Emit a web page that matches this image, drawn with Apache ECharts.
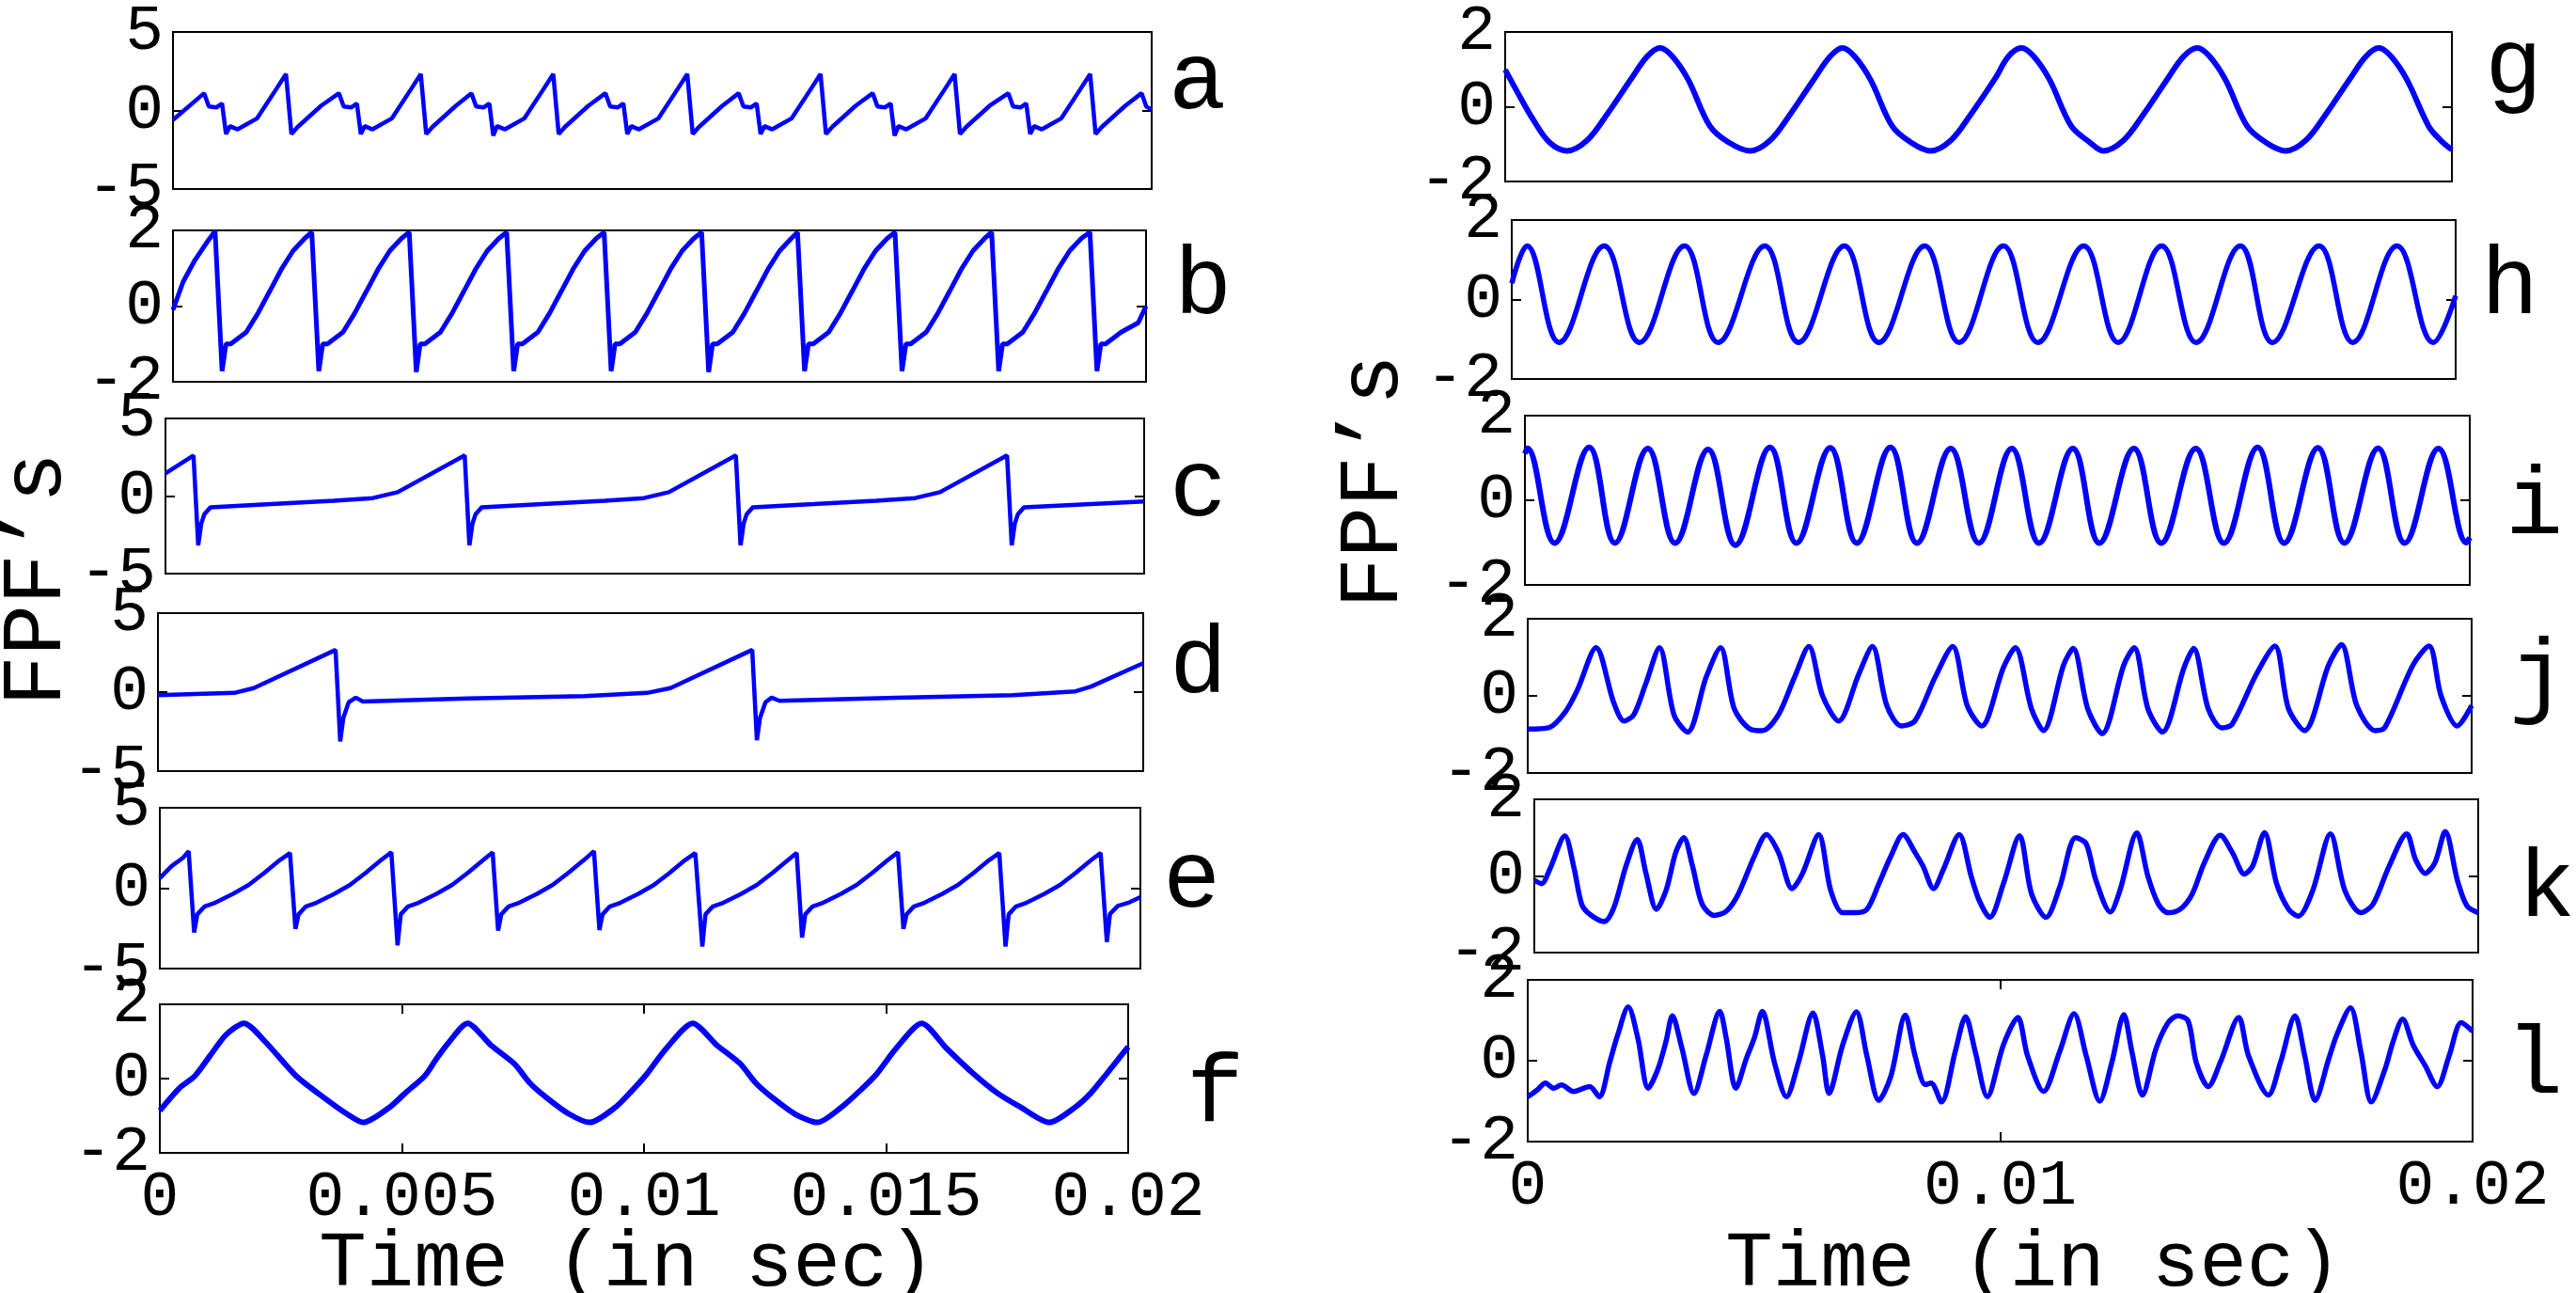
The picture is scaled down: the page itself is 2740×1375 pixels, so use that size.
<!DOCTYPE html>
<html>
<head>
<meta charset="utf-8">
<title>FPF's</title>
<script src="https://cdn.jsdelivr.net/npm/echarts@6/dist/echarts.min.js"></script>
<style>
  html, body { margin: 0; padding: 0; background: #fff; }
  #chart { width: 2740px; height: 1375px; }
</style>
</head>
<body>
<div id="chart"></div>
<script>
  'use strict';

  // time is in ms (0 .. 20 ms == 0 .. 0.02 s)
  var panelA = [[0,-0.6],
    [0.637,1.1],[0.733,0.25],[0.892,0.2],[1.003,0.45],[1.083,-1.5],[1.162,-1.0],[1.322,-1.2],[1.720,-0.5],[2.118,1.4],[2.309,2.32],[2.420,-1.5],[2.548,-1.05],[3.026,0.3],
    [3.392,1.1],[3.488,0.25],[3.647,0.2],[3.758,0.45],[3.838,-1.5],[3.917,-1.0],[4.077,-1.2],[4.475,-0.5],[4.873,1.4],[5.064,2.32],[5.175,-1.5],[5.303,-1.05],[5.781,0.3],
    [6.099,1.1],[6.195,0.25],[6.354,0.2],[6.465,0.45],[6.545,-1.6],[6.624,-1.0],[6.784,-1.2],[7.182,-0.5],[7.580,1.4],[7.771,2.32],[7.882,-1.5],[8.010,-1.05],[8.488,0.3],
    [8.838,1.1],[8.934,0.25],[9.093,0.2],[9.204,0.45],[9.284,-1.5],[9.363,-1.0],[9.523,-1.2],[9.921,-0.5],[10.319,1.4],[10.510,2.32],[10.621,-1.5],[10.749,-1.05],[11.227,0.3],
    [11.561,1.1],[11.657,0.25],[11.816,0.2],[11.927,0.45],[12.007,-1.5],[12.086,-1.0],[12.246,-1.2],[12.644,-0.5],[13.042,1.4],[13.233,2.32],[13.344,-1.5],[13.472,-1.05],[13.950,0.3],
    [14.300,1.1],[14.396,0.25],[14.555,0.2],[14.666,0.45],[14.746,-1.6],[14.825,-1.0],[14.985,-1.2],[15.383,-0.5],[15.781,1.4],[15.972,2.32],[16.083,-1.5],[16.211,-1.05],[16.689,0.3],
    [17.071,1.1],[17.167,0.25],[17.326,0.2],[17.437,0.45],[17.517,-1.5],[17.596,-1.0],[17.756,-1.2],[18.154,-0.5],[18.552,1.4],[18.743,2.32],[18.854,-1.5],[18.982,-1.05],[19.460,0.3],
    [19.794,1.1],[19.890,0.25],[20,0.05]];

  var panelB = [[0,-0.1],[0.208,0.64],[0.449,1.21],[0.689,1.67],
    [0.865,1.98],[1.009,-1.72],[1.089,-1.0],[1.186,-1.0],[1.506,-0.69],[1.746,-0.19],[1.987,0.39],[2.227,0.97],[2.468,1.46],[2.708,1.79],
    [2.853,1.95],[2.997,-1.72],[3.077,-1.0],[3.174,-1.0],[3.494,-0.69],[3.734,-0.19],[3.975,0.39],[4.215,0.97],[4.456,1.46],[4.696,1.79],
    [4.856,1.95],[5.000,-1.74],[5.080,-1.0],[5.177,-1.0],[5.497,-0.69],[5.737,-0.19],[5.978,0.39],[6.218,0.97],[6.459,1.46],[6.699,1.79],
    [6.859,1.95],[7.003,-1.72],[7.083,-1.0],[7.180,-1.0],[7.500,-0.69],[7.740,-0.19],[7.981,0.39],[8.221,0.97],[8.462,1.46],[8.702,1.79],
    [8.862,1.95],[9.006,-1.72],[9.086,-1.0],[9.183,-1.0],[9.503,-0.69],[9.743,-0.19],[9.984,0.39],[10.224,0.97],[10.465,1.46],[10.705,1.79],
    [10.866,1.95],[11.010,-1.74],[11.090,-1.0],[11.187,-1.0],[11.507,-0.69],[11.747,-0.19],[11.988,0.39],[12.228,0.97],[12.469,1.46],[12.709,1.79],
    [12.837,1.95],[12.981,-1.72],[13.061,-1.0],[13.158,-1.0],[13.478,-0.69],[13.718,-0.19],[13.959,0.39],[14.199,0.97],[14.440,1.46],[14.680,1.79],
    [14.840,1.95],[14.984,-1.72],[15.064,-1.0],[15.161,-1.0],[15.481,-0.69],[15.721,-0.19],[15.962,0.39],[16.202,0.97],[16.443,1.46],[16.683,1.79],
    [16.827,1.95],[16.971,-1.72],[17.051,-1.0],[17.148,-1.0],[17.468,-0.69],[17.708,-0.19],[17.949,0.39],[18.189,0.97],[18.430,1.46],[18.670,1.79],
    [18.847,1.95],[18.991,-1.72],[19.071,-1.0],[19.168,-1.0],[19.488,-0.69],[19.840,-0.44],[20,0.0]];

  var panelC = [[0,1.46],
    [0.573,2.62],[0.669,-3.18],[0.732,-1.77],[0.796,-1.16],[0.923,-0.72],[2.165,-0.52],[3.439,-0.31],[4.236,-0.13],[4.745,0.25],
    [6.115,2.62],[6.211,-3.18],[6.274,-1.77],[6.338,-1.16],[6.465,-0.72],[7.707,-0.52],[8.981,-0.31],[9.778,-0.13],[10.287,0.25],
    [11.656,2.62],[11.752,-3.18],[11.815,-1.77],[11.879,-1.16],[12.006,-0.72],[13.248,-0.52],[14.522,-0.31],[15.319,-0.13],[15.828,0.25],
    [17.198,2.62],[17.294,-3.18],[17.357,-1.77],[17.421,-1.16],[17.548,-0.72],[20,-0.35]];

  var panelD = [[0,-0.2],[1.549,-0.05],[1.945,0.25],[3.605,2.67],[3.700,-3.12],[3.763,-1.63],[3.873,-0.64],
    [4.016,-0.35],[4.158,-0.6],[6.292,-0.4],[8.664,-0.25],[9.929,-0.05],[10.403,0.25],[12.063,2.67],
    [12.158,-3.05],[12.221,-1.63],[12.332,-0.64],[12.458,-0.35],[12.616,-0.55],[14.988,-0.35],
    [17.359,-0.2],[18.624,0.05],[18.940,0.35],[20,1.83]];

  var panelE = [[0,0.62],[0.238,1.37],[0.477,1.9],
    [0.588,2.3],[0.700,-2.75],[0.764,-1.63],[0.907,-1.15],[1.097,-0.95],[1.495,-0.35],[1.813,0.2],[2.131,0.95],[2.449,1.75],
    [2.655,2.19],[2.766,-2.53],[2.830,-1.63],[2.973,-1.15],[3.163,-0.95],[3.561,-0.35],[3.879,0.2],[4.197,0.95],[4.515,1.75],
    [4.722,2.23],[4.849,-3.56],[4.913,-1.63],[5.056,-1.15],[5.246,-0.95],[5.644,-0.35],[5.962,0.2],[6.280,0.95],[6.598,1.75],
    [6.788,2.23],[6.900,-2.64],[6.964,-1.63],[7.107,-1.15],[7.297,-0.95],[7.695,-0.35],[8.013,0.2],[8.331,0.95],[8.649,1.75],
    [8.855,2.3],[8.966,-2.6],[9.030,-1.63],[9.173,-1.15],[9.363,-0.95],[9.761,-0.35],[10.079,0.2],[10.397,0.95],[10.715,1.75],
    [10.922,2.19],[11.065,-3.63],[11.129,-1.63],[11.272,-1.15],[11.462,-0.95],[11.860,-0.35],[12.178,0.2],[12.496,0.95],[12.814,1.75],
    [12.989,2.19],[13.100,-3.07],[13.164,-1.63],[13.307,-1.15],[13.497,-0.95],[13.895,-0.35],[14.213,0.2],[14.531,0.95],[14.849,1.75],
    [15.055,2.23],[15.167,-2.53],[15.231,-1.63],[15.374,-1.15],[15.564,-0.95],[15.962,-0.35],[16.280,0.2],[16.598,0.95],[16.916,1.75],
    [17.122,2.19],[17.249,-3.63],[17.313,-1.63],[17.456,-1.15],[17.646,-0.95],[18.044,-0.35],[18.362,0.2],[18.680,0.95],[18.998,1.75],
    [19.189,2.19],[19.316,-3.35],[19.380,-1.6],[19.539,-1.1],[19.777,-0.88],[20,-0.56]];

  var panelF = [[0,-0.86],[0.402,-0.26],[0.724,0.07],[1.046,0.63],[1.368,1.18],[1.738,1.49],[2.172,1.0],[2.816,0.07],[3.459,-0.58],[3.862,-0.95],[4.199,-1.18],
    [4.747,-0.77],[5.068,-0.39],[5.471,0.07],[5.712,0.53],[5.953,0.95],[6.356,1.49],
    [6.838,0.9],[7.321,0.4],[7.643,-0.12],[7.965,-0.49],[8.447,-0.95],[8.882,-1.18],
    [9.413,-0.77],[9.734,-0.35],[10.056,0.12],[10.459,0.81],[11.006,1.49],
    [11.505,0.9],[11.987,0.4],[12.309,-0.12],[12.631,-0.49],[13.113,-0.95],[13.580,-1.18],
    [14.079,-0.77],[14.481,-0.3],[14.803,0.12],[15.205,0.81],[15.736,1.49],
    [16.251,0.81],[16.814,0.12],[17.297,-0.39],[17.779,-0.77],[18.375,-1.18],
    [18.906,-0.77],[19.228,-0.39],[19.549,0.12],[20,0.86]];

  var panelG = [[0,0.99],[0.254,0.4],[0.594,-0.35],[0.933,-0.95],[1.306,-1.18],
    [1.730,-0.9],[2.154,-0.2],[2.663,0.75],[3.003,1.35],[3.274,1.57],[3.529,1.35],[3.868,0.72],[4.326,-0.52],[4.716,-0.95],[5.174,-1.18],
    [5.598,-0.9],[6.022,-0.2],[6.531,0.75],[6.870,1.35],[7.125,1.57],[7.379,1.35],[7.719,0.72],[8.177,-0.52],[8.567,-0.95],[8.991,-1.18],
    [9.415,-0.9],[9.839,-0.2],[10.348,0.75],[10.636,1.35],[10.908,1.57],[11.162,1.35],[11.502,0.72],[11.960,-0.52],[12.350,-0.95],[12.638,-1.18],
    [13.062,-0.9],[13.486,-0.2],[13.995,0.75],[14.335,1.35],[14.623,1.57],[14.878,1.35],[15.217,0.72],[15.675,-0.52],[16.065,-0.95],[16.489,-1.18],
    [16.913,-0.9],[17.338,-0.2],[17.847,0.75],[18.186,1.35],[18.457,1.57],[18.712,1.35],[19.051,0.72],[19.509,-0.52],[19.764,-0.9],[20,-1.15]];

  var panelH = [[0,0.41],[0.323,1.35],[1.004,-1.08],[1.957,1.35],[2.706,-1.08],[3.660,1.35],[4.374,-1.08],
    [5.362,1.35],[6.077,-1.08],[7.047,1.35],[7.779,-1.08],[8.749,1.35],[9.481,-1.08],[10.417,1.35],
    [11.149,-1.08],[12.119,1.35],[12.851,-1.08],[13.770,1.35],[14.502,-1.08],[15.438,1.35],[16.119,-1.08],
    [17.106,1.35],[17.821,-1.08],[18.757,1.35],[19.523,-1.08],[20,0.09]];

  var panelI = [[0,1.1],[0.051,1.23],[0.629,-1.01],[1.361,1.25],[1.905,-1.01],[2.602,1.22],[3.180,-1.01],
    [3.878,1.2],[4.456,-1.06],[5.187,1.25],[5.748,-1.01],[6.463,1.24],[7.024,-1.01],[7.738,1.25],
    [8.299,-1.01],[9.014,1.22],[9.609,-1.01],[10.306,1.22],[10.884,-1.01],[11.599,1.22],[12.160,-1.01],
    [12.891,1.22],[13.470,-1.01],[14.201,1.22],[14.796,-1.01],[15.510,1.25],[16.072,-1.01],[16.786,1.24],
    [17.347,-1.01],[18.061,1.23],[18.623,-1.01],[19.337,1.22],[19.932,-1.0],[20,-0.88]];

  var panelJ = [[0,-0.86],[0.460,-0.82],[0.800,-0.41],[1.055,0.16],[1.447,1.25],[1.821,-0.17],[2.043,-0.65],
    [2.247,-0.49],[2.502,0.32],[2.791,1.25],[3.098,-0.49],[3.387,-0.94],[3.779,0.48],[4.085,1.25],
    [4.374,-0.33],[4.715,-0.86],[4.970,-0.9],[5.311,-0.49],[5.651,0.48],[5.957,1.28],[6.247,0.0],
    [6.587,-0.65],[7.013,0.56],[7.302,1.28],[7.608,-0.25],[7.915,-0.78],[8.204,-0.65],[8.630,0.48],
    [9.004,1.28],[9.311,-0.25],[9.617,-0.78],[10.077,0.73],[10.332,1.25],[10.672,-0.33],[10.927,-0.9],
    [11.353,0.8],[11.557,1.23],[11.864,-0.33],[12.170,-0.98],[12.630,0.8],[12.851,1.25],[13.140,-0.33],
    [13.447,-0.94],[13.906,0.73],[14.110,1.23],[14.417,-0.33],[14.706,-0.83],[14.927,-0.73],[15.438,0.56],
    [15.830,1.29],[16.119,-0.33],[16.459,-0.9],[16.970,0.8],[17.242,1.33],[17.566,-0.25],[17.957,-0.9],
    [18.161,-0.82],[18.757,0.8],[19.097,1.29],[19.352,0.0],[19.693,-0.78],[20,-0.25]];

  var panelK = [[0,-0.11],[0.153,-0.2],[0.323,0.16],[0.647,1.04],[0.834,0.25],[1.004,-0.74],[1.174,-1.0],
    [1.481,-1.19],[1.685,-0.83],[1.940,0.25],[2.179,0.95],[2.366,0.07],[2.587,-0.87],[2.791,-0.38],
    [2.996,0.61],[3.166,1.0],[3.353,0.25],[3.557,-0.74],[3.813,-1.03],[4.068,-0.92],[4.323,-0.47],
    [4.664,0.52],[4.919,1.08],[5.174,0.61],[5.464,-0.33],[5.685,0.07],[6.025,1.08],[6.281,-0.38],
    [6.536,-0.96],[6.791,-0.96],[7.047,-0.87],[7.302,-0.2],[7.557,0.52],[7.813,1.08],[8.068,0.61],
    [8.238,0.25],[8.459,-0.33],[8.664,0.16],[9.004,1.08],[9.259,-0.02],[9.430,-0.65],[9.651,-1.08],
    [9.940,-0.2],[10.281,1.05],[10.536,-0.47],[10.842,-1.08],[11.132,-0.29],[11.472,1.0],[11.693,0.84],
    [11.898,-0.11],[12.204,-0.94],[12.408,-0.38],[12.766,1.12],[13.004,-0.02],[13.225,-0.74],[13.430,-0.96],
    [13.685,-0.87],[13.940,-0.47],[14.196,0.34],[14.536,1.06],[14.791,0.61],[15.047,0.05],[15.217,0.25],
    [15.472,1.13],[15.728,-0.2],[15.983,-0.87],[16.187,-1.05],[16.493,-0.38],[16.868,1.1],[17.174,-0.38],
    [17.515,-0.96],[17.770,-0.74],[18.110,0.25],[18.485,1.1],[18.672,0.43],[18.876,0.07],[19.081,0.34],
    [19.302,1.16],[19.557,-0.11],[19.761,-0.78],[20,-0.96]];

  var panelL = [[0,-0.89],[0.204,-0.72],[0.374,-0.55],[0.544,-0.68],[0.714,-0.6],[0.969,-0.76],[1.310,-0.64],
    [1.514,-0.89],[1.735,-0.04],[1.905,0.64],[2.126,1.33],[2.330,0.56],[2.551,-0.68],[2.755,-0.21],
    [2.925,0.47],[3.061,1.11],[3.265,0.3],[3.520,-0.81],[3.776,0.13],[4.065,1.22],[4.201,0.56],
    [4.405,-0.68],[4.626,0.05],[4.796,0.56],[4.966,1.22],[5.221,-0.04],[5.476,-0.89],[5.731,-0.04],
    [6.037,1.18],[6.241,0.13],[6.378,-0.81],[6.667,0.39],[6.956,1.21],[7.177,0.13],[7.432,-0.98],
    [7.687,-0.38],[7.993,1.13],[8.197,0.13],[8.418,-0.59],[8.538,-0.55],[8.759,-1.02],[9.048,0.22],
    [9.269,1.09],[9.473,0.22],[9.728,-0.89],[10.068,0.39],[10.374,1.07],[10.578,0.13],[10.919,-0.76],
    [11.259,0.22],[11.565,1.16],[11.820,0.13],[12.109,-1.0],[12.364,-0.04],[12.619,1.14],[12.789,0.22],
    [13.010,-0.85],[13.299,0.3],[13.555,0.94],[13.759,1.11],[13.980,0.98],[14.150,-0.04],[14.405,-0.64],
    [14.660,-0.04],[15.051,1.07],[15.255,0.13],[15.680,-0.85],[15.935,-0.04],[16.242,1.11],[16.446,0.13],
    [16.667,-0.98],[16.956,0.05],[17.126,0.64],[17.415,1.31],[17.636,0.22],[17.857,-1.02],[18.146,-0.21],
    [18.316,0.47],[18.520,1.03],[18.741,0.39],[18.996,-0.12],[19.251,-0.64],[19.506,0.13],[19.761,0.94],
    [20,0.73]];

  var letters = ['a','b','c','d','e','f','g','h','i','j','k','l'];
  var series = [panelA, panelB, panelC, panelD, panelE, panelF, panelG, panelH, panelI, panelJ, panelK, panelL];
  var yLimits = [5, 2, 5, 5, 5, 2, 2, 2, 2, 2, 2, 2];
  var xTicksLeft = ['0', '0.005', '0.01', '0.015', '0.02'];
  var xTicksRight = ['0', '0.01', '0.02'];
  var yTitle = 'FPF\u2019s';
  var xTitle = 'Time (in sec)';

  // panel boxes in px: left, top, width, height
  var boxes = [
    [184, 28, 1041, 173], [184, 245, 1035, 161], [176, 445, 1041, 165],
    [168, 652, 1048, 168], [170, 859, 1043, 171], [170, 1068, 1030, 158],
    [1601, 22, 1007, 171], [1608, 234, 1004, 169], [1622, 442, 1005, 180],
    [1625, 658, 1004, 164], [1632, 850, 1004, 163], [1625, 1042, 1005, 172]
  ];
  // letter anchor: left x, baseline y
  var letterPos = [
    [1243, 112], [1249, 330], [1244, 545], [1244, 733], [1237, 961], [1262, 1189],
    [2643, 97], [2639, 330], [2665, 564], [2669, 747], [2678, 971], [2665, 1159]
  ];
  var smoothing = [0, 0, 0, 0, 0, 0.25, 0.35, 0.4, 0.4, 0.3, 0.3, 0.3];
  var lineWidths = [4.5, 5, 4.5, 4.5, 4.5, 6, 6, 5.5, 6, 5.5, 5.5, 5.5];

  var FONT = '"Liberation Mono", "DejaVu Sans Mono", monospace';
  var TICK_SIZE = 68;
  var LETTER_SIZE = 102;

  var chart = echarts.init(document.getElementById('chart'), null, { renderer: 'canvas' });

  var grids = [], xAxes = [], yAxes = [], seriesList = [], graphics = [];

  _each(boxes, function (b, i) {
    grids.push({
      left: b[0], top: b[1], width: b[2], height: b[3],
      show: true, borderColor: '#000', borderWidth: 2, backgroundColor: 'transparent'
    });

    var tickLabels = null, step = 0;
    if (i === 5) { tickLabels = xTicksLeft; step = 5; }
    if (i === 11) { tickLabels = xTicksRight; step = 10; }

    var xBase = {
      type: 'value', gridIndex: i, min: 0, max: 20,
      interval: step || 20,
      axisLine: { show: false, onZero: false },
      splitLine: { show: false },
      axisTick: { show: !!tickLabels, inside: true, length: 10, lineStyle: { color: '#000', width: 2 } },
      axisLabel: { show: false }
    };
    var xBottom = echarts.util.merge({ position: 'bottom' }, xBase, true);
    if (tickLabels) {
      xBottom.axisLabel = {
        show: true, margin: 14, color: '#000', fontFamily: FONT, fontSize: TICK_SIZE,
        showMinLabel: true, showMaxLabel: true,
        formatter: function (v) { return tickLabels[Math.round(v / step)]; }
      };
    }
    xAxes.push(xBottom);
    xAxes.push(echarts.util.merge({ position: 'top' }, xBase, true));

    var lim = yLimits[i];
    var yBase = {
      type: 'value', gridIndex: i, min: -lim, max: lim, interval: lim,
      axisLine: { show: false, onZero: false },
      splitLine: { show: false },
      axisTick: { show: true, inside: true, length: 10, lineStyle: { color: '#000', width: 2 } }
    };
    var yLeft = echarts.util.merge({
      position: 'left',
      axisLabel: {
        show: true, margin: 10, color: '#000', fontFamily: FONT, fontSize: TICK_SIZE,
        showMinLabel: true, showMaxLabel: true
      }
    }, yBase, true);
    yAxes.push(yLeft);
    yAxes.push(echarts.util.merge({ position: 'right', axisLabel: { show: false } }, yBase, true));

    seriesList.push({
      type: 'line', xAxisIndex: i * 2, yAxisIndex: i * 2,
      data: series[i], showSymbol: false, symbol: 'none',
      smooth: smoothing[i], clip: true,
      lineStyle: { color: '#0000ff', width: lineWidths[i] },
      silent: true
    });

    var lp = letterPos[i];
    graphics.push({
      type: 'text', x: lp[0], y: lp[1] - 0.235 * LETTER_SIZE,
      style: { text: letters[i], font: LETTER_SIZE + 'px ' + FONT, fill: '#000', align: 'left', verticalAlign: 'middle' }
    });
  });

  // axis titles
  graphics.push({
    type: 'text', x: 40, y: 616, rotation: Math.PI / 2,
    style: { text: yTitle, font: '90px ' + FONT, fill: '#000', align: 'center', verticalAlign: 'middle' }
  });
  graphics.push({
    type: 'text', x: 1462, y: 512, rotation: Math.PI / 2,
    style: { text: yTitle, font: '90px ' + FONT, fill: '#000', align: 'center', verticalAlign: 'middle' }
  });
  graphics.push({
    type: 'text', x: 667, y: 1345,
    style: { text: xTitle, font: '84px ' + FONT, fill: '#000', align: 'center', verticalAlign: 'middle' }
  });
  graphics.push({
    type: 'text', x: 2163, y: 1345,
    style: { text: xTitle, font: '84px ' + FONT, fill: '#000', align: 'center', verticalAlign: 'middle' }
  });

  chart.setOption({
    animation: false,
    backgroundColor: '#fff',
    grid: grids,
    xAxis: xAxes,
    yAxis: yAxes,
    series: seriesList,
    graphic: graphics
  });

  function _each(arr, fn) {
    for (var k = 0; k < arr.length; k++) { fn(arr[k], k); }
  }
</script>
</body>
</html>
